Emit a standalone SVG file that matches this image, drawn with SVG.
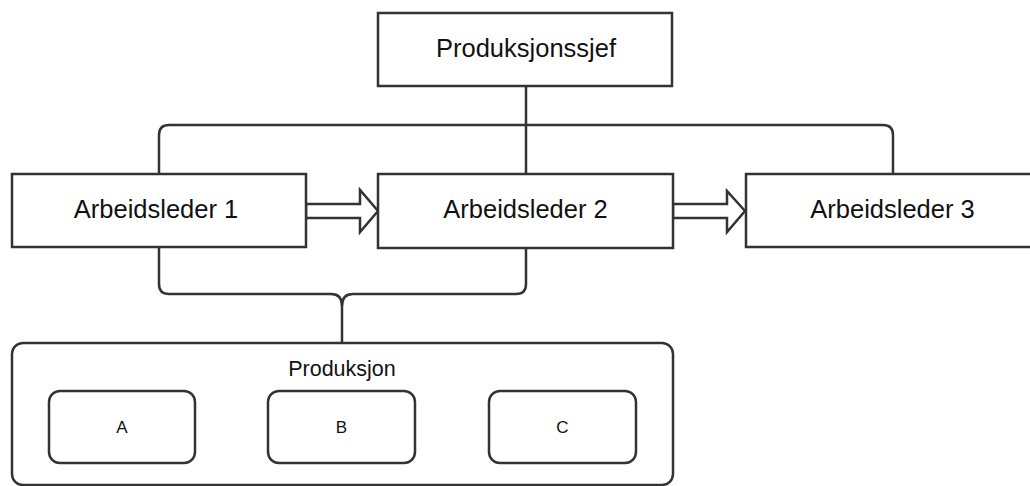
<svg xmlns="http://www.w3.org/2000/svg" width="1030" height="486" viewBox="0 0 1030 486">
<style>
.box{fill:#fff;stroke:#333;stroke-width:2.5}
.line{fill:none;stroke:#333;stroke-width:2.5}
.lbl{font-family:"Liberation Sans",Arial,sans-serif;font-size:25.5px;fill:#111;text-anchor:middle}
.sub{font-family:"Liberation Sans",Arial,sans-serif;font-size:21.5px;fill:#111;text-anchor:middle}
.small{font-family:"Liberation Sans",Arial,sans-serif;font-size:17px;fill:#111;text-anchor:middle}
</style>
<rect width="1030" height="486" fill="#fff"/>
<g id="connectors">
<path class="line" d="M526 86 V174"/>
<path class="line" d="M159 174 V135 Q159 125 169 125 H883 Q893 125 893 135 V174"/>
<path class="line" d="M159 247 V284 Q159 294 169 294 H331 Q342 294 342 306 Q342 294 353 294 H516 Q526 294 526 284 V248"/>
<path class="line" d="M342 305 V343"/>
<path class="box" d="M306 204 H360 V190 L378 211 L360 232 V218 H306 Z"/>
<path class="box" d="M673 204 H727 V191 L745 211 L727 232 V218 H673 Z"/>
</g>
<g id="produksjonssjef">
<rect class="box" x="378" y="13" width="294" height="73"/>
<text class="lbl" x="526" y="57">Produksjonssjef</text>
</g>
<g id="arbeidsleder1">
<rect class="box" x="12" y="174" width="294" height="73"/>
<text class="lbl" x="156" y="218">Arbeidsleder 1</text>
</g>
<g id="arbeidsleder2">
<rect class="box" x="378" y="174" width="295" height="74"/>
<text class="lbl" x="525.5" y="218">Arbeidsleder 2</text>
</g>
<g id="arbeidsleder3">
<rect class="box" x="746" y="174" width="300" height="73"/>
<text class="lbl" x="892.5" y="218">Arbeidsleder 3</text>
</g>
<g id="produksjon">
<rect class="box" x="12" y="343" width="661" height="142" rx="11" ry="11"/>
<text class="sub" x="342" y="376">Produksjon</text>
</g>
<g id="a">
<rect class="box" x="49" y="391" width="146" height="72" rx="11" ry="11"/>
<text class="small" x="122" y="433">A</text>
</g>
<g id="b">
<rect class="box" x="268" y="391" width="147" height="72" rx="11" ry="11"/>
<text class="small" x="341.5" y="433">B</text>
</g>
<g id="c">
<rect class="box" x="489" y="391" width="147" height="72" rx="11" ry="11"/>
<text class="small" x="562.5" y="433">C</text>
</g>
</svg>
